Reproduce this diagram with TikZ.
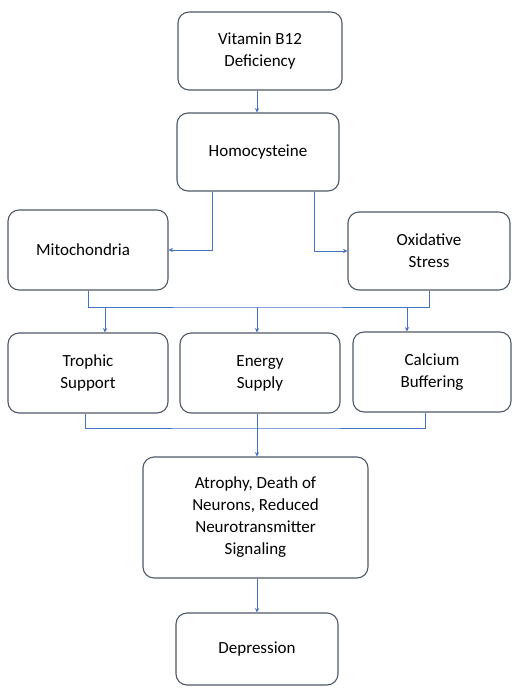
\documentclass[tikz,border=0pt]{standalone}
\usepackage{fontspec}
\setmainfont{Carlito}
\usepackage{tikz}
\usetikzlibrary{arrows.meta,positioning}
\definecolor{boxline}{HTML}{4F5866}
\definecolor{linkblue}{HTML}{4472C4}

\begin{document}
\begin{tikzpicture}[x=1pt,y=-1pt,>={Stealth[length=4.5pt,width=4.5pt]},
    every node/.style={font=\fontsize{17}{22}\selectfont,align=center},
    box/.style={draw=boxline,line width=1.1pt,rounded corners=11pt,inner sep=0pt},
    link/.style={draw=linkblue,line width=0.8pt}]
    \useasboundingbox (0,0) rectangle (512,689);
    \node[box,minimum width=164pt,minimum height=78pt] (vit) at (260,51) {Vitamin B12\\Deficiency};
    \node[box,minimum width=162pt,minimum height=78pt] (homo) at (258,152) {Homocysteine};
    \node[box,minimum width=160pt,minimum height=80pt] (mito) at (88,250) {Mitochondria\hspace*{10pt}};
    \node[box,minimum width=162pt,minimum height=78pt] (oxi) at (429,251) {Oxidative\\Stress};
    \node[box,minimum width=160pt,minimum height=80pt] (troph) at (88,373) {Trophic\\Support};
    \node[box,minimum width=160pt,minimum height=80pt] (energy) at (260,373) {Energy\\Supply};
    \node[box,minimum width=158pt,minimum height=80pt] (calc) at (432,372) {Calcium\\Buffering};
    \node[box,minimum width=225pt,minimum height=121pt] (atro) at (255.5,517.5) {Atrophy, Death of\\Neurons, Reduced\\Neurotransmitter\\Signaling};
    \node[box,minimum width=162pt,minimum height=72pt] (dep) at (257,649) {Depression};
    \coordinate (upjoin) at (257,307);
    \coordinate (lowjoin) at (257,428);
    \draw[link,->] (vit.south -| 257,0) -- (homo.north -| 257,0);
    \draw[link,->] ([xshift=-46pt]homo.south) |- (mito.east);
    \draw[link,->] ([xshift=56pt]homo.south) |- (oxi.west);
    \draw[link] (mito.south) |- (upjoin) -| (oxi.south);
    \draw[link,->] (upjoin -| 105,0) -- (troph.north -| 105,0);
    \draw[link,->] (upjoin) -- (energy.north -| upjoin);
    \draw[link,->] (upjoin -| 407,0) -- (calc.north -| 407,0);
    \draw[link] ([xshift=-3pt]troph.south) |- (lowjoin) -| ([xshift=-7pt]calc.south);
    \draw[link] (energy.south -| lowjoin) -- (lowjoin);
    \draw[link,->] (lowjoin) -- (atro.north -| lowjoin);
    \draw[link,->] (atro.south -| lowjoin) -- (dep.north -| lowjoin);
\end{tikzpicture}
\end{document}
